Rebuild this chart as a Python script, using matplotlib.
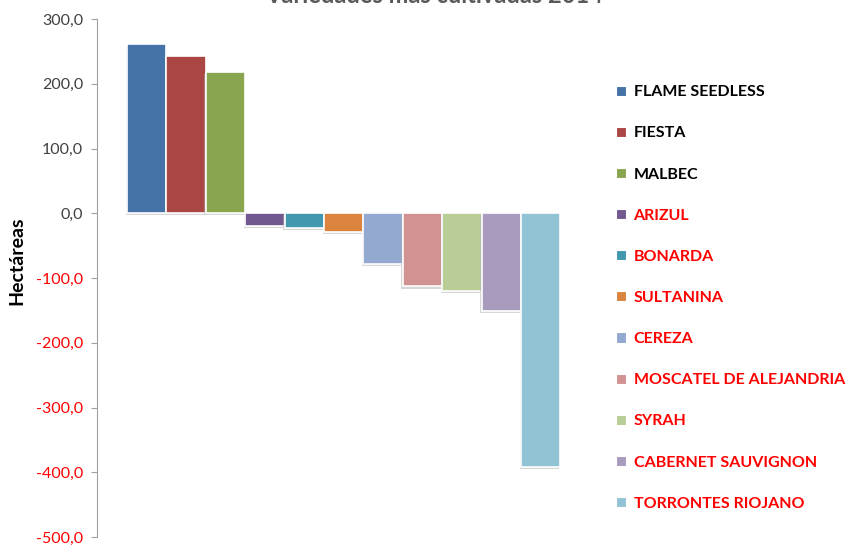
import numpy as np
import matplotlib
matplotlib.use("Agg")
import matplotlib.pyplot as plt
import matplotlib.patheffects as pe
from matplotlib.patches import Patch

# Data: hectare change per grape variety
varieties = ["FLAME SEEDLESS", "FIESTA", "MALBEC", "ARIZUL", "BONARDA", "SULTANINA",
             "CEREZA", "MOSCATEL DE ALEJANDRIA", "SYRAH", "CABERNET SAUVIGNON",
             "TORRONTES RIOJANO"]
hectares = [261, 243, 218, -20, -23, -29, -78, -113, -120, -151, -392]
colors = ["#4572A7", "#AA4643", "#89A54E", "#71588F", "#4198AF", "#DB843D",
          "#93A9CF", "#D19392", "#B9CD96", "#A99BBD", "#92C3D5"]
yticks = [300, 200, 100, 0, -100, -200, -300, -400, -500]

plt.rcParams['font.family'] = ['Lato', 'DejaVu Sans']

fig = plt.figure(figsize=(8.47, 5.45), dpi=100)
ax = fig.add_axes([97 / 847, 8 / 545, (590 - 97) / 847, (537 - 19) / 545])

x = np.arange(len(varieties))
shadow = [pe.SimplePatchShadow(offset=(-1, -1.5), shadow_rgbFace='#B0B0B0', alpha=0.5), pe.Normal()]
bars = ax.bar(x, hectares, width=1.0, color=colors, edgecolor='white', linewidth=1.2)
for b in bars:
    b.set_path_effects(shadow)

ax.set_xlim(-1.26, 11.25)
ax.set_ylim(-500, 300)
ax.set_yticks(yticks)
ax.set_yticklabels([f"{v:.1f}".replace('.', ',') for v in yticks], fontsize=11.5)
for lab, v in zip(ax.get_yticklabels(), yticks):
    lab.set_color('#FF0000' if v < 0 else '#404040')
ax.tick_params(axis='y', direction='out', length=4, color='#A0A0A0', pad=6)
ax.set_xticks([])
for side in ['top', 'right', 'bottom']:
    ax.spines[side].set_visible(False)
ax.spines['left'].set_color('#A0A0A0')
ax.set_ylabel('Hectáreas', fontsize=14, fontweight='bold')
ax.yaxis.set_label_coords(-0.145, 0.533)

# legend on the right, negative varieties in red
handles = [Patch(facecolor=c, edgecolor='white', linewidth=0.8) for c in colors]
label_colors = ['black' if v > 0 else '#FF0000' for v in hectares]
fig.legend(handles=handles, labels=varieties, loc='center left',
           bbox_to_anchor=(616 / 847, (545 - 298) / 545), frameon=False,
           prop={'weight': 'bold', 'size': 11.5}, labelcolor=label_colors,
           handlelength=0.6, handleheight=0.6, handletextpad=0.5,
           labelspacing=1.70, borderpad=0, borderaxespad=0)

# title mostly cut off at the top of the image
fig.text(0.513, 1 - 3 / 545, 'Variedades más cultivadas 2014', ha='center',
         va='baseline', fontsize=17, fontweight='bold', color='#595959')

fig.savefig('out.png', dpi=100)
